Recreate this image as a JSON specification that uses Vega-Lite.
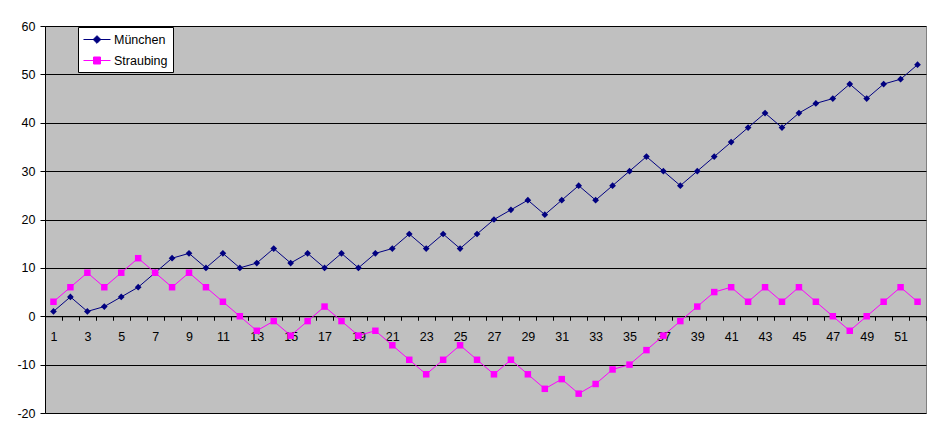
{
  "$schema": "https://vega.github.io/schema/vega-lite/v6.json",
  "width": 881,
  "height": 387,
  "autosize": {"type": "none"},
  "padding": {"left": 45, "top": 26, "right": 14, "bottom": 26},
  "background": "white",
  "config": {
    "view": {"fill": "#C0C0C0", "stroke": "#808080", "strokeWidth": 1},
    "font": "Liberation Sans"
  },
  "data": {
    "values": [
      {"week": 1, "München": 1, "Straubing": 3},
      {"week": 2, "München": 4, "Straubing": 6},
      {"week": 3, "München": 1, "Straubing": 9},
      {"week": 4, "München": 2, "Straubing": 6},
      {"week": 5, "München": 4, "Straubing": 9},
      {"week": 6, "München": 6, "Straubing": 12},
      {"week": 7, "München": 9, "Straubing": 9},
      {"week": 8, "München": 12, "Straubing": 6},
      {"week": 9, "München": 13, "Straubing": 9},
      {"week": 10, "München": 10, "Straubing": 6},
      {"week": 11, "München": 13, "Straubing": 3},
      {"week": 12, "München": 10, "Straubing": 0},
      {"week": 13, "München": 11, "Straubing": -3},
      {"week": 14, "München": 14, "Straubing": -1},
      {"week": 15, "München": 11, "Straubing": -4},
      {"week": 16, "München": 13, "Straubing": -1},
      {"week": 17, "München": 10, "Straubing": 2},
      {"week": 18, "München": 13, "Straubing": -1},
      {"week": 19, "München": 10, "Straubing": -4},
      {"week": 20, "München": 13, "Straubing": -3},
      {"week": 21, "München": 14, "Straubing": -6},
      {"week": 22, "München": 17, "Straubing": -9},
      {"week": 23, "München": 14, "Straubing": -12},
      {"week": 24, "München": 17, "Straubing": -9},
      {"week": 25, "München": 14, "Straubing": -6},
      {"week": 26, "München": 17, "Straubing": -9},
      {"week": 27, "München": 20, "Straubing": -12},
      {"week": 28, "München": 22, "Straubing": -9},
      {"week": 29, "München": 24, "Straubing": -12},
      {"week": 30, "München": 21, "Straubing": -15},
      {"week": 31, "München": 24, "Straubing": -13},
      {"week": 32, "München": 27, "Straubing": -16},
      {"week": 33, "München": 24, "Straubing": -14},
      {"week": 34, "München": 27, "Straubing": -11},
      {"week": 35, "München": 30, "Straubing": -10},
      {"week": 36, "München": 33, "Straubing": -7},
      {"week": 37, "München": 30, "Straubing": -4},
      {"week": 38, "München": 27, "Straubing": -1},
      {"week": 39, "München": 30, "Straubing": 2},
      {"week": 40, "München": 33, "Straubing": 5},
      {"week": 41, "München": 36, "Straubing": 6},
      {"week": 42, "München": 39, "Straubing": 3},
      {"week": 43, "München": 42, "Straubing": 6},
      {"week": 44, "München": 39, "Straubing": 3},
      {"week": 45, "München": 42, "Straubing": 6},
      {"week": 46, "München": 44, "Straubing": 3},
      {"week": 47, "München": 45, "Straubing": 0},
      {"week": 48, "München": 48, "Straubing": -3},
      {"week": 49, "München": 45, "Straubing": 0},
      {"week": 50, "München": 48, "Straubing": 3},
      {"week": 51, "München": 49, "Straubing": 6},
      {"week": 52, "München": 52, "Straubing": 3}
    ]
  },
  "transform": [{"fold": ["München", "Straubing"], "as": ["city", "value"]}],
  "encoding": {
    "x": {
      "field": "week",
      "type": "quantitative",
      "scale": {"domain": [0.5, 52.5], "nice": false, "zero": false},
      "axis": {
        "values": [0.5, 1.5, 2.5, 3.5, 4.5, 5.5, 6.5, 7.5, 8.5, 9.5, 10.5, 11.5, 12.5, 13.5, 14.5, 15.5, 16.5, 17.5, 18.5, 19.5, 20.5, 21.5, 22.5, 23.5, 24.5, 25.5, 26.5, 27.5, 28.5, 29.5, 30.5, 31.5, 32.5, 33.5, 34.5, 35.5, 36.5, 37.5, 38.5, 39.5, 40.5, 41.5, 42.5, 43.5, 44.5, 45.5, 46.5, 47.5, 48.5, 49.5, 50.5, 51.5, 52.5],
        "labelExpr": "((datum.value + 0.5) % 2 == 1) && datum.value < 52 ? '' + (datum.value + 0.5) : ''",
        "labelOffset": 8.47,
        "offset": -96.75,
        "tickSize": 4,
        "labelPadding": 10,
        "domainColor": "black",
        "tickColor": "black",
        "labelColor": "black",
        "labelFont": "Liberation Sans",
        "labelFontSize": 12.5,
        "labelAngle": 0,
        "labelOverlap": false,
        "labelFlush": false,
        "labelBound": false,
        "grid": false,
        "title": null
      }
    },
    "y": {
      "field": "value",
      "type": "quantitative",
      "scale": {"domain": [-20, 60], "nice": false, "zero": false},
      "axis": {
        "values": [-20, -10, 0, 10, 20, 30, 40, 50, 60],
        "labelExpr": "'' + datum.value",
        "tickSize": 5,
        "labelPadding": 5,
        "grid": true,
        "gridColor": "black",
        "gridOpacity": 1,
        "gridWidth": 1,
        "domainColor": "black",
        "tickColor": "black",
        "labelColor": "black",
        "labelFont": "Liberation Sans",
        "labelFontSize": 12.5,
        "labelFlush": false,
        "labelOverlap": false,
        "title": null
      }
    }
  },
  "layer": [
    {
      "mark": {"type": "line", "strokeWidth": 1},
      "encoding": {
        "color": {
          "field": "city",
          "type": "nominal",
          "scale": {"domain": ["München", "Straubing"], "range": ["#000080", "#FF00FF"]},
          "legend": {
            "title": null,
            "orient": "none",
            "legendX": 33,
            "legendY": 1,
            "strokeColor": "black",
            "fillColor": "white",
            "padding": 5,
            "symbolSize": 196,
            "symbolOffset": 6.5,
            "labelOffset": 9.5,
            "rowPadding": 7,
            "labelFont": "Liberation Sans",
            "labelFontSize": 12.5,
            "labelColor": "black",
            "symbolStrokeWidth": 1,
            "encode": {
              "symbols": {
                "update": {
                  "shape": {"signal": "datum.value === 'München' ? 'M-1.93,0H1.93M0,-0.55L0.55,0L0,0.55L-0.55,0Z' : 'M-1.93,0H1.93M-0.5,-0.5H0.5V0.5H-0.5Z'"},
                  "fill": {"signal": "datum.value === 'München' ? '#000080' : '#FF00FF'"},
                  "stroke": {"signal": "datum.value === 'München' ? '#000080' : '#FF00FF'"},
                  "strokeWidth": {"value": 1},
                  "opacity": {"value": 1},
                  "fillOpacity": {"value": 1},
                  "strokeOpacity": {"value": 1}
                }
              }
            }
          }
        }
      }
    },
    {
      "transform": [{"filter": "datum.city === 'München'"}],
      "mark": {"type": "point", "filled": true, "opacity": 1, "size": 45, "shape": "diamond", "color": "#000080"}
    },
    {
      "transform": [{"filter": "datum.city === 'Straubing'"}],
      "mark": {"type": "point", "filled": true, "opacity": 1, "size": 42, "shape": "square", "color": "#FF00FF"}
    }
  ]
}
